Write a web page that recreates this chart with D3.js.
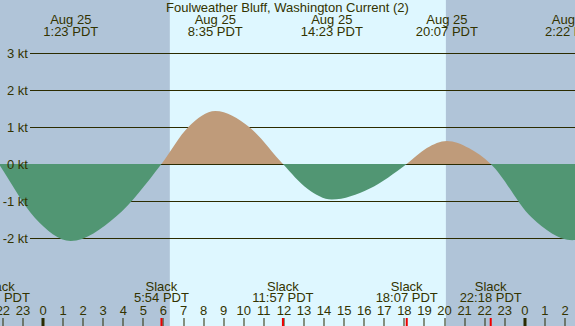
<!DOCTYPE html>
<html>
<head>
<meta charset="utf-8">
<script src="https://cdn.jsdelivr.net/npm/d3@7"></script>
<style>
	body { margin: 0; background: #ffffff; }
	svg text { font-family: "Liberation Sans", Arial, sans-serif; font-size: 13px; fill: #333300; }
</style>
</head>
<body>
<svg id="svgTide" width="575" height="326"></svg>
<script>
// Chart data (hours from midnight Aug 25, PDT)
var chartTitle = "Foulweather Bluff, Washington Current (2)";
var eventHours = [-2.2, 1.383, 5.9, 8.583, 11.95, 14.383, 18.117, 20.117, 22.3, 26.367];
var eventKinds = ["slack", "max", "slack", "max", "slack", "max", "slack", "max", "slack", "max"];
var eventValues = [0, -2.08, 0, 1.43, 0, -0.96, 0, 0.62, 0, -2.06];
var eventTimes = ["21:48", "1:23", "5:54", "8:35", "11:57", "14:23", "18:07", "20:07", "22:18", "2:22"];
var eventDates = ["Aug 24", "Aug 25", "Aug 25", "Aug 25", "Aug 25", "Aug 25", "Aug 25", "Aug 25", "Aug 25", "Aug 26"];
var midHours = [-3.2, -0.41, 3.64, 7.24, 10.27, 13.17, 16.25, 19.12, 21.21, 24.33, 28.4];
var midValues = [0.8, -1.45, -1.42, 1.0, 1.0, -0.67, -0.67, 0.43, 0.43, -1.44, -1.45];
var sunrise = 6.317, sunset = 20.067;
var speedTicks = [3, 2, 1, 0, -1, -2];
var hourTicks = d3.range(-2, 27);

var tide = [];
tide.width = 575;
tide.height = 326;

tide.init = () => {
	let svg = d3.select("#svgTide");

	// Scales
	let x = d3.scaleLinear().domain([0, 26]).range([43, 565]),
		y = d3.scaleLinear().domain([-2, 3]).range([238, 53]);

	let xMin = x.invert(0), xMax = x.invert(tide.width);

	// Night / day background
	svg.append("rect")
		.attr("x", 0).attr("y", 0)
		.attr("width", tide.width).attr("height", tide.height)
		.style("fill", "#b0c4d8");
	svg.append("rect")
		.attr("x", x(sunrise)).attr("y", 0)
		.attr("width", x(sunset) - x(sunrise)).attr("height", tide.height)
		.style("fill", "#def7ff");

	// Grid lines
	svg.selectAll(".grid")
		.data(speedTicks)
		.enter()
		.append("line")
		.attr("class", "grid")
		.attr("x1", 30)
		.attr("x2", tide.width)
		.attr("y1", d => Math.round(y(d)) + 0.5)
		.attr("y2", d => Math.round(y(d)) + 0.5)
		.style("stroke", "#2b2b00")
		.style("stroke-width", 1);

	// Current curve
	let points = [];
	eventHours.forEach((h, i) => points.push({h: h, v: eventValues[i]}));
	midHours.forEach((h, i) => points.push({h: h, v: midValues[i]}));
	points.sort((a, b) => a.h - b.h);

	let area = d3.area()
		.x(d => x(d.h))
		.y0(y(0))
		.y1(d => y(d.v))
		.curve(d3.curveMonotoneX);

	let defs = svg.append("defs");
	defs.append("clipPath").attr("id", "clipFlood")
		.append("rect")
		.attr("x", 0).attr("y", 0)
		.attr("width", tide.width).attr("height", Math.round(y(0)));
	defs.append("clipPath").attr("id", "clipEbb")
		.append("rect")
		.attr("x", 0).attr("y", Math.round(y(0)))
		.attr("width", tide.width).attr("height", tide.height);

	svg.append("path")
		.datum(points)
		.attr("d", area)
		.attr("clip-path", "url(#clipFlood)")
		.style("fill", "#bf9b7a");
	svg.append("path")
		.datum(points)
		.attr("d", area)
		.attr("clip-path", "url(#clipEbb)")
		.style("fill", "#519673");

	// Speed labels
	svg.selectAll(".ylabel")
		.data(speedTicks)
		.enter()
		.append("text")
		.attr("class", "ylabel")
		.attr("x", 28)
		.attr("y", d => y(d) + 4.5)
		.style("text-anchor", "end")
		.text(d => d + " kt");

	// Title
	svg.append("text")
		.attr("x", tide.width / 2)
		.attr("y", 12)
		.style("text-anchor", "middle")
		.text(chartTitle);

	// Max current labels (top)
	let events = eventHours.map((h, i) => ({h: h, kind: eventKinds[i], time: eventTimes[i], date: eventDates[i]}));
	let maxes = events.filter(d => d.kind == "max");
	let top = svg.selectAll(".maxlabel")
		.data(maxes)
		.enter()
		.append("g")
		.attr("class", "maxlabel");
	top.append("text")
		.attr("x", d => x(d.h))
		.attr("y", 24)
		.style("text-anchor", "middle")
		.text(d => d.date);
	top.append("text")
		.attr("x", d => x(d.h))
		.attr("y", 36)
		.style("text-anchor", "middle")
		.text(d => d.time + " PDT");

	// Slack labels (bottom)
	let slacks = events.filter(d => d.kind == "slack");
	let bottom = svg.selectAll(".slacklabel")
		.data(slacks)
		.enter()
		.append("g")
		.attr("class", "slacklabel");
	bottom.append("text")
		.attr("x", d => x(d.h))
		.attr("y", 291)
		.style("text-anchor", "middle")
		.text("Slack");
	bottom.append("text")
		.attr("x", d => x(d.h))
		.attr("y", 302)
		.style("text-anchor", "middle")
		.text(d => d.time + " PDT");

	// Hour axis
	svg.selectAll(".hourlabel")
		.data(hourTicks)
		.enter()
		.append("text")
		.attr("class", "hourlabel")
		.attr("x", d => x(d))
		.attr("y", 315)
		.style("text-anchor", "middle")
		.text(d => ((d % 24) + 24) % 24);

	svg.selectAll(".hourtick")
		.data(hourTicks)
		.enter()
		.append("rect")
		.attr("class", "hourtick")
		.attr("x", d => Math.round(x(d)) - (d % 24 == 0 ? 1.5 : 0.5))
		.attr("y", 318)
		.attr("width", d => (d % 24 == 0 ? 3 : 1))
		.attr("height", 8)
		.style("fill", "#2b2b00");

	svg.selectAll(".slacktick")
		.data(slacks.filter(d => d.h > xMin && d.h < xMax))
		.enter()
		.append("rect")
		.attr("class", "slacktick")
		.attr("x", d => x(d.h) - 1)
		.attr("y", 318)
		.attr("width", 2)
		.attr("height", 8)
		.style("fill", "#ee0000");
}

tide.init();
</script>
</body>
</html>
